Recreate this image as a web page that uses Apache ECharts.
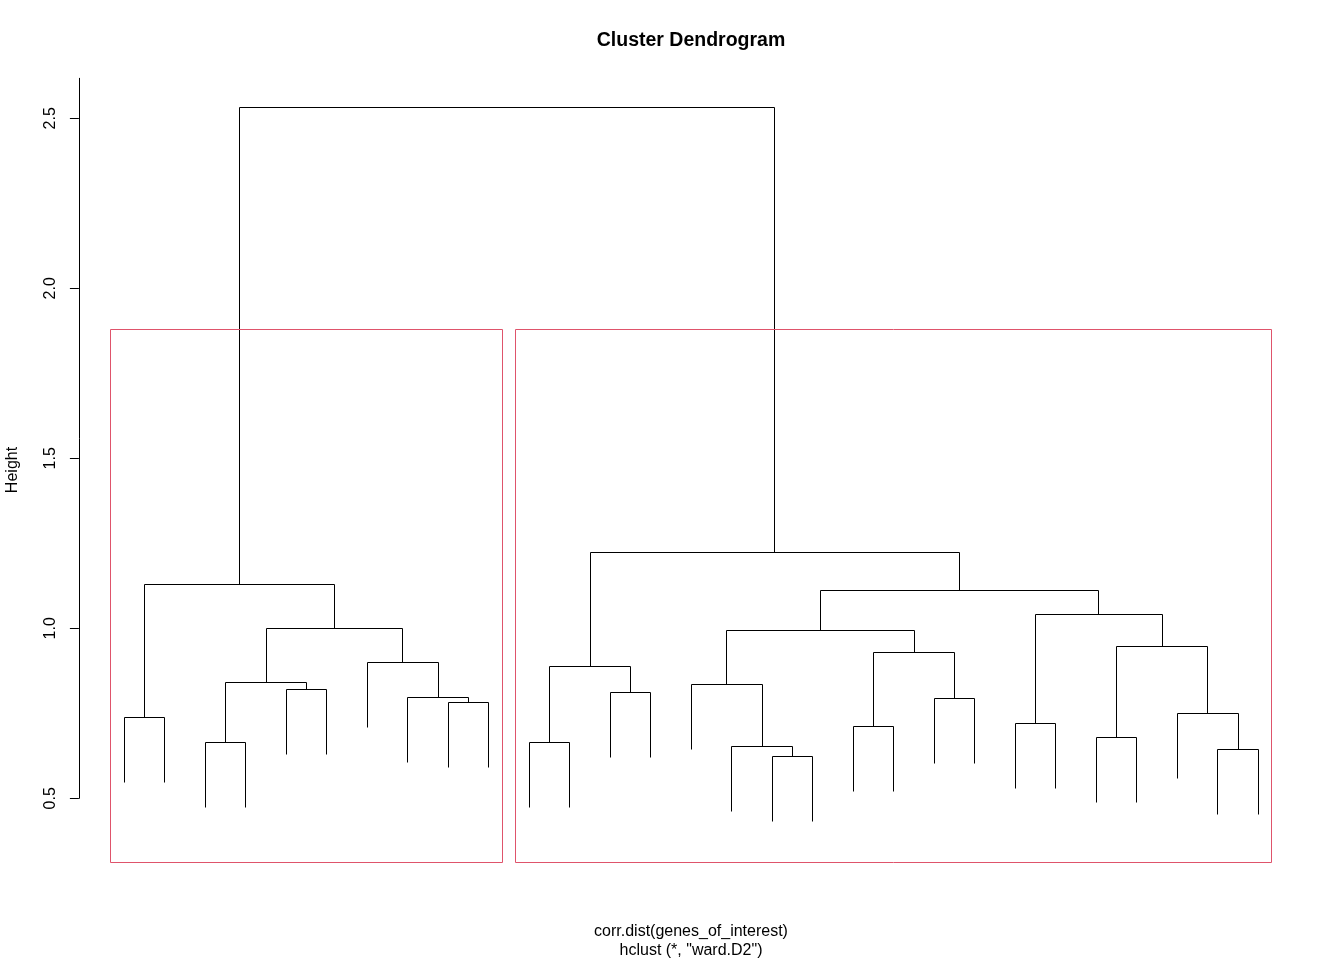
<!DOCTYPE html>
<html>
<head>
<meta charset="utf-8">
<script src="https://cdn.jsdelivr.net/npm/echarts@6/dist/echarts.min.js"></script>
<style>
html, body { margin: 0; padding: 0; background: #ffffff; }
#chart { width: 1344px; height: 960px; }
</style>
</head>
<body>
<div id="chart"></div>
<script>
// ---------------- data (hclust result, R conventions) ----------------
// leaves are numbered by their position in the dendrogram order (1..29)
const leafCount = 29;
// merge rows: negative = leaf, positive = earlier merge row (1-based)
const mergeLeft  = [-17, -28, -16, -3, -11, -25, -19, -23, -1, -27, -9, -21, -8, -13, -5, -15,  4,  5, -7,  7,  6, 16, 17,  8, 22,  9, 18, 26];
const mergeRight = [-18, -29,   1, -4, -12, -26, -20, -24, -2,   2, -10, -22, 11, -14, -6,   3, 15, 14, 13, 12, 10, 20, 19, 21, 24, 23, 25, 27];
const mergeHeights = [0.622, 0.643, 0.652, 0.664, 0.664, 0.678, 0.710, 0.719, 0.737, 0.749, 0.782, 0.794, 0.796, 0.811,
                      0.820, 0.834, 0.840, 0.887, 0.899, 0.928, 0.946, 0.993, 0.999, 1.040, 1.110, 1.129, 1.223, 2.532];
// rect.hclust(k = 2): number of leaves in each cluster, left to right
const clusterSizes = [10, 19];
const yTickValues = [0.5, 1.0, 1.5, 2.0, 2.5];
const titleText = 'Cluster Dendrogram';
const subLine1 = 'corr.dist(genes_of_interest)';
const subLine2 = 'hclust (*, "ward.D2")';
const yAxisTitle = 'Height';

// ---------------- layout / style constants ----------------
const FONT = '"Liberation Sans", Arial, Helvetica, sans-serif';
const hangFraction = 0.1;
const xMin = 1 - 0.04 * (leafCount - 1), xMax = leafCount + 0.04 * (leafCount - 1);
const yAxisMin = 0.5, yAxisMax = 2.6176;
const yUsrMin = 0.312;   // lower limit of the plot region (rect bottoms)
const rectColor = '#DF536B';

// ---------------- build dendrogram segments ----------------
const hMax = Math.max(...mergeHeights), hMin = Math.min(...mergeHeights);
const hang = hangFraction * (hMax - hMin);
const nodeX = [];
const uShapes = [];
for (let i = 0; i < mergeHeights.length; i++) {
  const h = mergeHeights[i];
  const pos = c => c < 0 ? { x: -c, y: h - hang } : { x: nodeX[c - 1], y: mergeHeights[c - 1] };
  const a = pos(mergeLeft[i]), b = pos(mergeRight[i]);
  uShapes.push([a.x, a.y, b.x, b.y, h]);
  nodeX[i] = (a.x + b.x) / 2;
}
const hs = mergeHeights.slice().sort((p, q) => q - p);
const k = clusterSizes.length;
const rectTop = (hs[k - 2] + hs[k - 1]) / 2;
const rects = [];
let start = 0;
clusterSizes.forEach(n => {
  rects.push([start + 0.66, start + n + 0.33, rectTop, yUsrMin]);
  start += n;
});

const crisp = v => Math.floor(v) + 0.5;

const chart = echarts.init(document.getElementById('chart'), null, { renderer: 'canvas' });
chart.setOption({
  backgroundColor: '#ffffff',
  animation: false,
  grid: { left: 78.9, right: 40.3, top: 78.3, bottom: 161.7, containLabel: false, outerBoundsMode: 'none' },
  xAxis: { type: 'value', min: xMin, max: xMax, show: false },
  yAxis: {
    type: 'value', min: yAxisMin, max: yAxisMax,
    axisLine: { show: true, onZero: false, lineStyle: { color: '#000', width: 1 } },
    splitLine: { show: false },
    axisTick: { show: true, length: 9, customValues: yTickValues, lineStyle: { color: '#000', width: 1 } },
    axisLabel: {
      customValues: yTickValues, rotate: 90, margin: 20,
      formatter: v => Number(v).toFixed(1),
      fontSize: 16, color: '#000', fontFamily: FONT
    }
  },
  series: [
    {
      type: 'custom', clip: false, silent: true,
      encode: { x: [0, 2], y: [1, 3, 4] },
      data: uShapes,
      renderItem: (params, api) => {
        const p1 = api.coord([api.value(0), api.value(1)]);
        const p2 = api.coord([api.value(0), api.value(4)]);
        const p3 = api.coord([api.value(2), api.value(4)]);
        const p4 = api.coord([api.value(2), api.value(3)]);
        return {
          type: 'polyline',
          shape: { points: [p1, p2, p3, p4].map(p => [crisp(p[0]), crisp(p[1])]) },
          style: { stroke: '#000', lineWidth: 1, fill: 'none' }
        };
      }
    },
    {
      type: 'custom', clip: false, silent: true,
      encode: { x: [0, 1], y: [2, 3] },
      data: rects,
      renderItem: (params, api) => {
        const tl = api.coord([api.value(0), api.value(2)]);
        const br = api.coord([api.value(1), api.value(3)]);
        const x0 = crisp(tl[0]), y0 = crisp(tl[1]), x1 = crisp(br[0]), y1 = crisp(br[1]);
        return {
          type: 'rect',
          shape: { x: x0, y: y0, width: x1 - x0, height: y1 - y0 },
          style: { stroke: rectColor, lineWidth: 1, fill: 'none' }
        };
      }
    }
  ],
  graphic: [
    { type: 'text', x: 691, y: 41, silent: true,
      style: { text: titleText, fontSize: 19.5, fontWeight: 'bold', fontFamily: FONT, fill: '#000',
               textAlign: 'center', textVerticalAlign: 'middle', align: 'center', verticalAlign: 'middle' } },
    { type: 'text', x: 691, y: 932, silent: true,
      style: { text: subLine1, fontSize: 16, fontFamily: FONT, fill: '#000',
               textAlign: 'center', textVerticalAlign: 'middle', align: 'center', verticalAlign: 'middle' } },
    { type: 'text', x: 691, y: 951, silent: true,
      style: { text: subLine2, fontSize: 16, fontFamily: FONT, fill: '#000',
               textAlign: 'center', textVerticalAlign: 'middle', align: 'center', verticalAlign: 'middle' } },
    { type: 'text', x: 13, y: 470, rotation: Math.PI / 2, silent: true,
      style: { text: yAxisTitle, fontSize: 16, fontFamily: FONT, fill: '#000',
               textAlign: 'center', textVerticalAlign: 'middle', align: 'center', verticalAlign: 'middle' } }
  ]
});
</script>
</body>
</html>
